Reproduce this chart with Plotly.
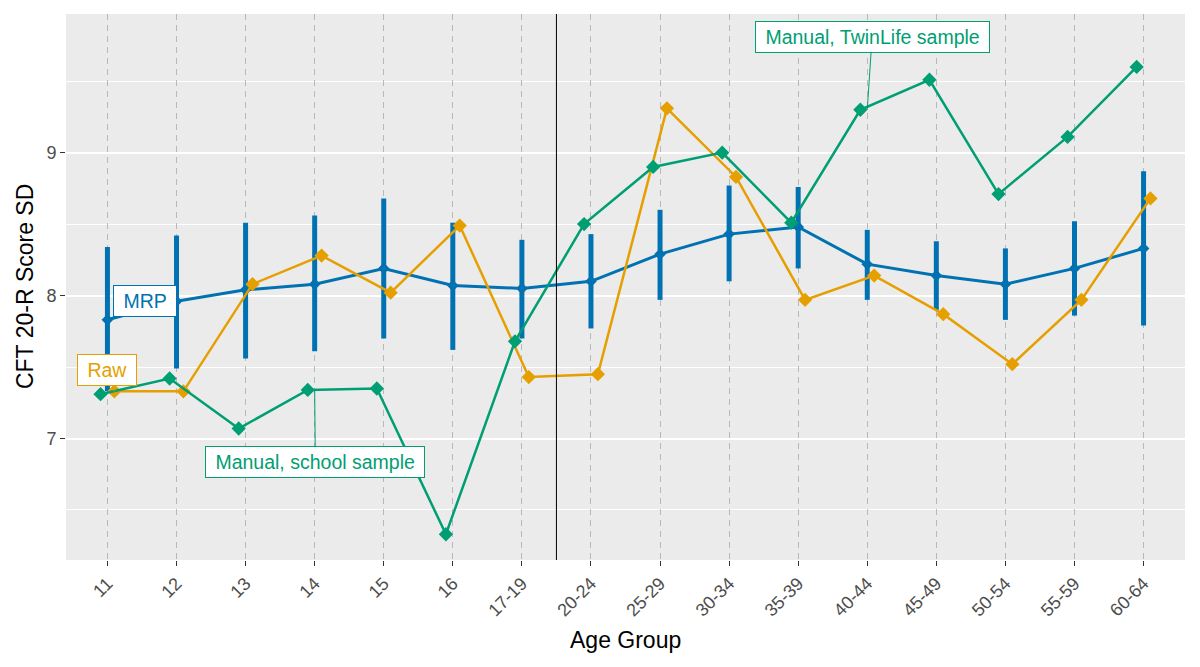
import plotly.graph_objects as go

age_groups = ["11", "12", "13", "14", "15", "16", "17-19", "20-24", "25-29",
              "30-34", "35-39", "40-44", "45-49", "50-54", "55-59", "60-64"]
mrp = [7.83, 7.96, 8.04, 8.08, 8.19, 8.07, 8.05, 8.10, 8.29, 8.43, 8.48,
       8.22, 8.14, 8.08, 8.19, 8.33]
mrp_upper = [8.34, 8.42, 8.51, 8.56, 8.68, 8.51, 8.39, 8.43, 8.60, 8.77, 8.76,
             8.46, 8.38, 8.33, 8.52, 8.87]
mrp_lower = [7.33, 7.49, 7.56, 7.61, 7.70, 7.62, 7.70, 7.77, 7.97, 8.10, 8.19,
             7.97, 7.90, 7.83, 7.86, 7.79]
raw = [7.33, 7.33, 8.08, 8.28, 8.02, 8.49, 7.43, 7.45, 9.31, 8.83, 7.97,
       8.14, 7.87, 7.52, 7.97, 8.68]
manual = [7.31, 7.42, 7.07, 7.34, 7.35, 6.33, 7.68, 8.50, 8.90, 9.00, 8.51,
          9.30, 9.51, 8.71, 9.11, 9.60]

BLUE = "#0072B2"
ORANGE = "#E69F00"
GREEN = "#009E73"
DODGE = 0.1

idx = list(range(len(age_groups)))
x_mrp = idx
x_raw = [i + DODGE for i in idx]
x_man = [i - DODGE for i in idx]

fig = go.Figure()

fig.add_trace(go.Scatter(
    x=x_mrp, y=mrp, mode="lines+markers",
    line=dict(color=BLUE, width=3),
    marker=dict(symbol="diamond", size=9, color=BLUE),
    error_y=dict(type="data", symmetric=False,
                 array=[u - m for u, m in zip(mrp_upper, mrp)],
                 arrayminus=[m - l for m, l in zip(mrp, mrp_lower)],
                 color=BLUE, thickness=5, width=0),
    hoverinfo="skip", showlegend=False))

fig.add_trace(go.Scatter(
    x=x_raw, y=raw, mode="lines+markers",
    line=dict(color=ORANGE, width=2.5),
    marker=dict(symbol="diamond", size=11, color=ORANGE),
    showlegend=False))

fig.add_trace(go.Scatter(
    x=x_man, y=manual, mode="lines+markers",
    line=dict(color=GREEN, width=2.5),
    marker=dict(symbol="diamond", size=11, color=GREEN),
    showlegend=False))

# vertical separator between school and adult samples
fig.add_shape(type="line", xref="x", yref="paper", x0=6.5, x1=6.5, y0=0, y1=1,
              line=dict(color="black", width=1))

FONT = "Liberation Sans, Arial, sans-serif"


def label(text, color, head_x, head_y, tx, ty, arrow=True):
    fig.add_annotation(
        x=head_x, y=head_y, ax=tx, ay=ty, xref="x", yref="y", axref="x", ayref="y",
        text="&nbsp;" + text + "&nbsp;", showarrow=arrow, arrowhead=0, arrowwidth=1,
        arrowcolor=color,
        font=dict(family=FONT, size=19.5, color=color),
        bgcolor="white", bordercolor=color, borderwidth=1, borderpad=4)


label("MRP", BLUE, 0, mrp[0], 0.55, 7.965)
label("Raw", ORANGE, DODGE, raw[0], 0.0, 7.48)
label("Manual, school sample", GREEN, 3, manual[3], 3.01, 6.836)
label("Manual, TwinLife sample", GREEN, 11, manual[11], 11.07, 9.81)

# axis titles
fig.add_annotation(text="Age Group", xref="paper", yref="paper", x=0.5, y=-0.1465,
                   xanchor="center", yanchor="middle", showarrow=False,
                   font=dict(family=FONT, size=23, color="black"))
fig.add_annotation(text="CFT 20-R Score SD", xref="paper", yref="paper", x=-0.0366, y=0.5,
                   xanchor="center", yanchor="middle", showarrow=False, textangle=-90,
                   font=dict(family=FONT, size=23, color="black"))

# page body has an 8px margin, so the figure is sized to fit inside the window
fig.update_layout(
    width=1192, height=659,
    margin=dict(l=58, r=15, t=6, b=107, autoexpand=False),
    paper_bgcolor="white", plot_bgcolor="#EBEBEB",
    font=dict(family=FONT, color="#4D4D4D", size=18),
    showlegend=False,
)

fig.update_xaxes(
    range=[-0.6, 15.6], tickmode="array", tickvals=idx, ticktext=age_groups,
    tickangle=-45, ticks="outside", ticklen=5, tickcolor="#333333", tickwidth=1,
    showgrid=True, gridcolor="#B8B8B8", griddash="6px,5px", gridwidth=1.4,
    zeroline=False, showline=False, automargin=False,
    tickfont=dict(family=FONT, size=18, color="#4D4D4D"),
)

fig.update_yaxes(
    range=[6.15, 9.97], tickmode="array", tickvals=[7, 8, 9],
    ticks="outside", ticklen=5, tickcolor="#333333", tickwidth=1,
    showgrid=True, gridcolor="white", gridwidth=1.6,
    minor=dict(tickmode="array", tickvals=[6.5, 7.5, 8.5, 9.5], showgrid=True,
               gridcolor="white", gridwidth=0.8, ticks=""),
    zeroline=False, showline=False, automargin=False,
    tickfont=dict(family=FONT, size=18, color="#4D4D4D"),
)

fig.write_html("out.html")
